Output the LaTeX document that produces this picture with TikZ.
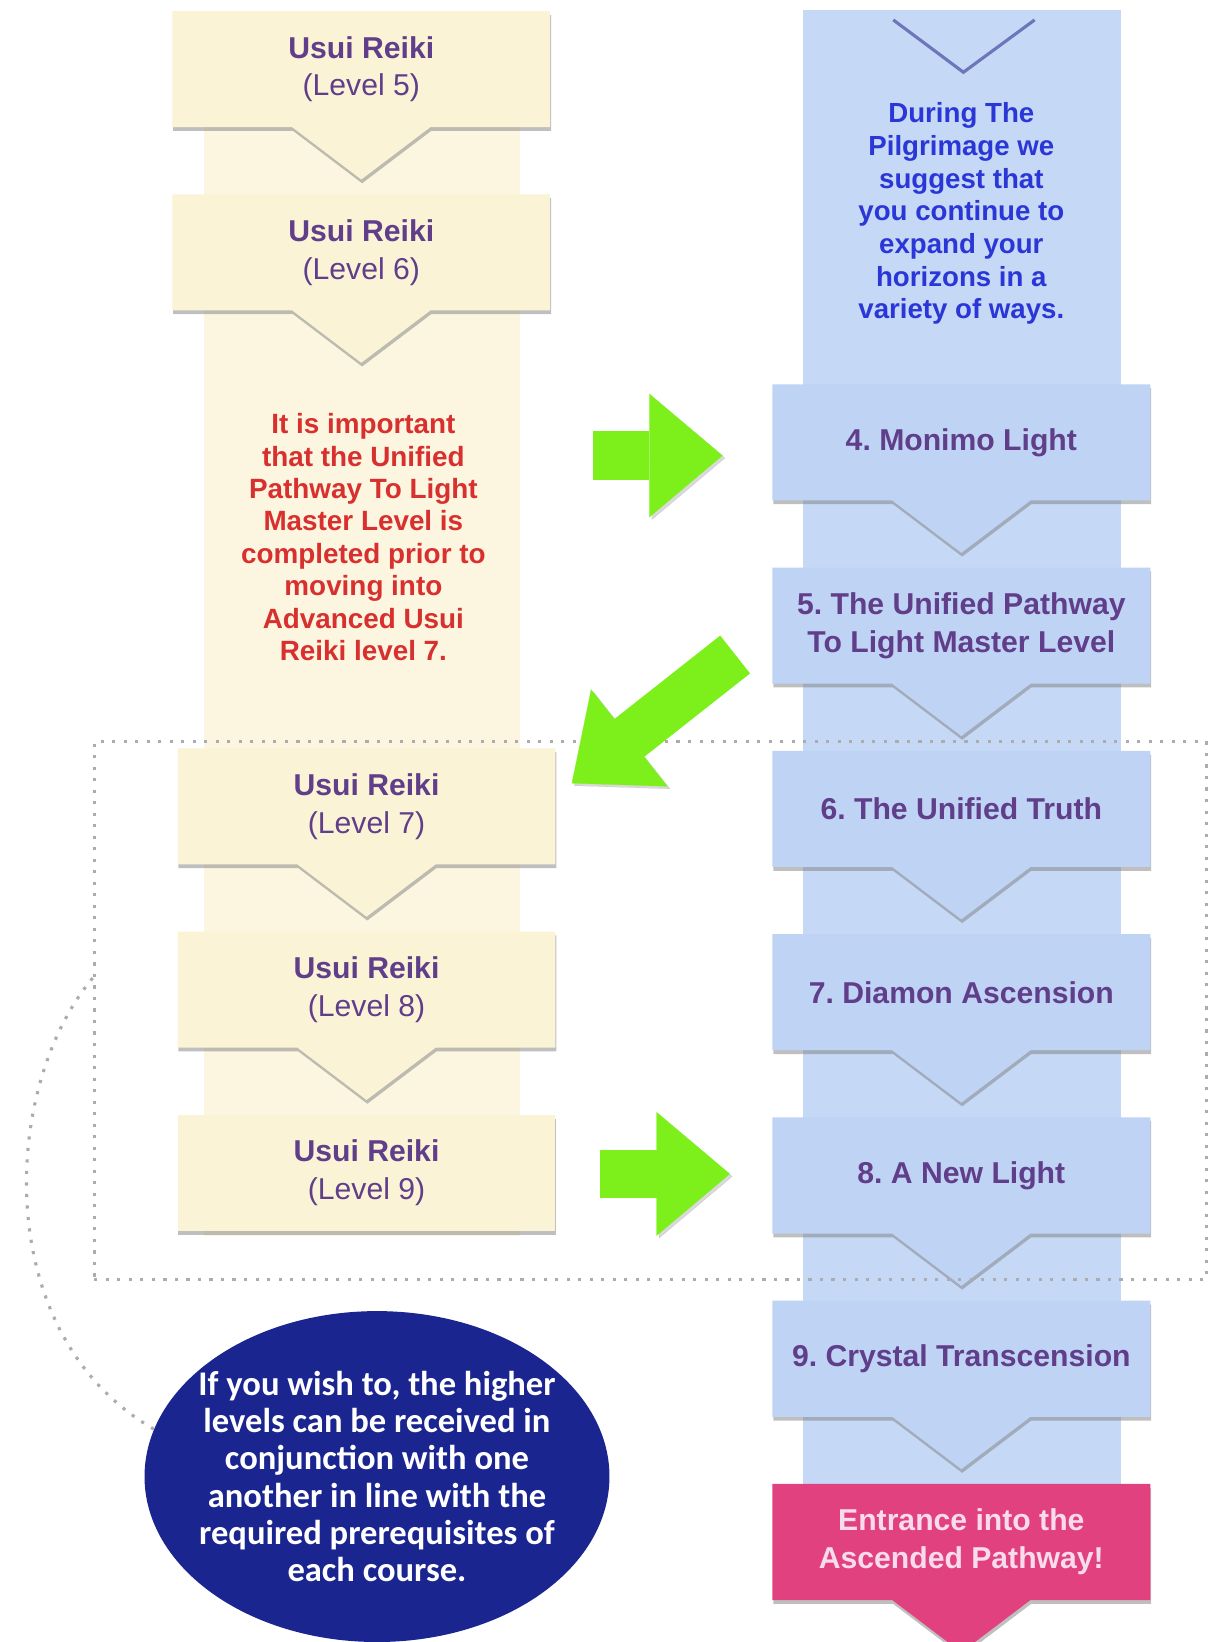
\documentclass[tikz,border=0pt]{standalone}
\usepackage{fontspec}
\setmainfont{Liberation Sans}
\newfontfamily\notefont{Carlito}
\usepackage{tikz}
\usepackage{xcolor}
\usetikzlibrary{backgrounds,calc,positioning,shadows,arrows.meta,shapes.geometric}
\frenchspacing

\definecolor{cream}{HTML}{FBF3D6}
\definecolor{creamstrip}{HTML}{FCF6E1}
\definecolor{sky}{HTML}{BFD3F5}
\definecolor{skystrip}{HTML}{C5D8F6}
\definecolor{plum}{HTML}{603E8A}
\definecolor{warnred}{HTML}{D8302E}
\definecolor{tipblue}{HTML}{2B36D6}
\definecolor{rose}{HTML}{E2417F}
\definecolor{roselight}{HTML}{F9DCEB}
\definecolor{navy}{HTML}{1A2590}
\definecolor{lime}{HTML}{7DF01C}

\newcommand{\tailbox}[2]{%
  \path[fill=#2,drop shadow={opacity=.5,shadow xshift=.4pt,shadow yshift=-1.8pt}]
    (#1.north west) -- (#1.north east) -- (#1.south east)
    -- ($(#1.south)+(66,0)$) -- ($(#1.south)+(0,50)$) -- ($(#1.south)+(-66,0)$)
    -- (#1.south west) -- cycle;}
\newcommand{\flatbox}[2]{%
  \path[fill=#2,drop shadow={opacity=.5,shadow xshift=.4pt,shadow yshift=-1.8pt}]
    (#1.north west) rectangle (#1.south east);}

\begin{document}
\begin{tikzpicture}[x=0.5pt,y=-0.5pt,node distance=87.5pt]
  \tikzstyle{level}=[minimum width=180pt,minimum height=55pt,align=center,text=plum,font=\fontsize{14.4}{18}\selectfont]
  \tikzstyle{course}=[level,font=\bfseries\fontsize{14.4}{18}\selectfont]
  \tikzstyle{go}=[line width=23pt,draw=lime,-{Triangle[length=35pt,width=59pt,line width=0.1pt]},
    preaction={draw=black,opacity=.15,transform canvas={shift={(1.2pt,-1.2pt)}}}]
  \tikzstyle{dots}=[draw=gray!65,line width=1.5pt,dash pattern=on 1.5pt off 4pt]

  \useasboundingbox (0,0) rectangle (1156,1568);
  \clip (0,0) rectangle (1156,1568);

  \node[level] (l_5) at (345,66) {\textbf{Usui Reiki}\\(Level 5)};
  \node[level] (l_6) [below of=l_5] {\textbf{Usui Reiki}\\(Level 6)};
  \node[level] (l_7) at (350,770) {\textbf{Usui Reiki}\\(Level 7)};
  \node[level] (l_8) [below of=l_7] {\textbf{Usui Reiki}\\(Level 8)};
  \node[level] (l_9) [below of=l_8] {\textbf{Usui Reiki}\\(Level 9)};
  \node[align=center,text=warnred,font=\bfseries\fontsize{13.3}{15.5}\selectfont] (warn) at (347,513)
    {It is important\\that the Unified\\Pathway To Light\\Master Level is\\completed prior to\\moving into\\Advanced Usui\\Reiki level 7.};

  \node[align=center,text=tipblue,font=\bfseries\fontsize{13.2}{15.6}\selectfont] (pilgrim) at (918,204)
    {During The\\Pilgrimage we\\suggest that\\you continue to\\expand your\\horizons in a\\variety of ways.};
  \node[course] (r_4) at (918,422.5) {4. Monimo Light};
  \node[course] (r_5) [below of=r_4] {5. The Unified Pathway\\To Light Master Level};
  \node[course] (r_6) [below of=r_5] {6. The Unified Truth};
  \node[course] (r_7) [below of=r_6] {7. Diamon Ascension};
  \node[course] (r_8) [below of=r_7] {8. A New Light};
  \node[course] (r_9) [below of=r_8] {9. Crystal Transcension};
  \node[course,text=roselight] (gate) [below of=r_9] {Entrance into the\\Ascended Pathway!};

  \begin{pgfonlayer}{background}
    \fill[creamstrip] (195,12) rectangle (497,1180);
    \fill[skystrip] (767,10) rectangle (1070,1420);
    \draw[blue!45!black,opacity=.45,line width=1.5pt] (853,19) -- (920,69) -- (988,19);
    \tailbox{l_5}{cream}
    \tailbox{l_6}{cream}
    \tailbox{l_7}{cream}
    \tailbox{l_8}{cream}
    \flatbox{l_9}{cream}
    \tailbox{r_4}{sky}
    \tailbox{r_5}{sky}
    \tailbox{r_6}{sky}
    \tailbox{r_7}{sky}
    \tailbox{r_8}{sky}
    \tailbox{r_9}{sky}
    \tailbox{gate}{rose}
  \end{pgfonlayer}

  \node[dots,minimum width=531pt,minimum height=257pt] (adv) at (621,965) {};
  \node[ellipse,fill=navy,minimum width=222pt,minimum height=158pt,inner xsep=-20pt,inner ysep=0pt,
    text=white,align=center,font=\notefont\bfseries\fontsize{16.5}{17.75}\selectfont] (note) at (360,1410)
    {If you wish to, the higher\\levels can be received in\\conjunction with one\\another in line with the\\required prerequisites of\\each course.};
  \draw[dots] ($(adv.north west)!0.44!(adv.south west)$) .. controls +(-88,105) and +(-156,-90) .. (note.168);

  \coordinate (g1s) at (566,435);
  \coordinate (g1e) at (690,435);
  \coordinate (g2s) at (702,625);
  \coordinate (g2e) at (546,748);
  \coordinate (g3s) at (573,1121);
  \coordinate (g3e) at (697,1121);
  \draw[go] (g1s) -- (g1e);
  \draw[go] (g2s) -- (g2e);
  \draw[go] (g3s) -- (g3e);
\end{tikzpicture}
\end{document}
